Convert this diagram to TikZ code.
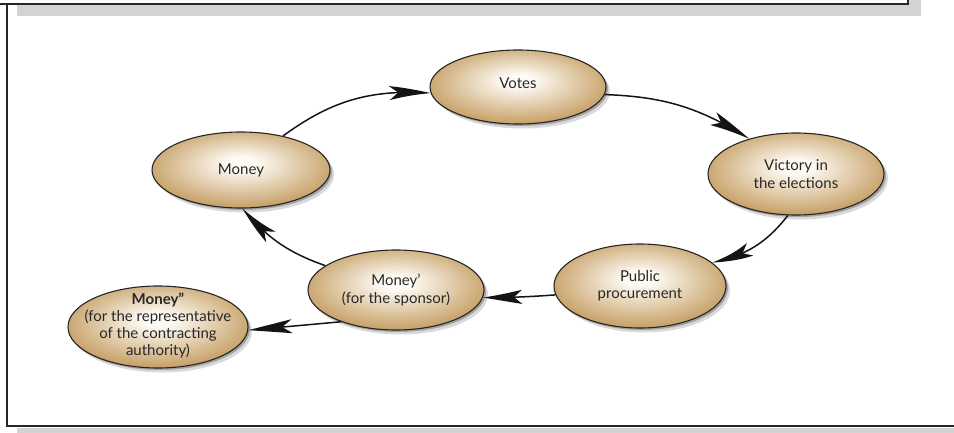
\documentclass[tikz,border=0pt]{standalone}
\usepackage{fontspec}
\setmainfont{Lato}
\usetikzlibrary{shapes.geometric,arrows.meta,bending,shadows}
\definecolor{tanedge}{RGB}{198,160,102}
\definecolor{tancent}{RGB}{254,251,245}
\definecolor{txt}{RGB}{40,40,40}
\definecolor{shadowgray}{RGB}{211,211,211}
\pgfdeclareradialshading{ellshade}{\pgfpoint{0bp}{5bp}}{color(0bp)=(tancent); color(4bp)=(tancent); color(27bp)=(tanedge); color(50bp)=(tanedge)}
\begin{document}
\begin{tikzpicture}[x=1pt,y=-1pt,
  oval/.style={ellipse, draw=black!85, line width=1.1pt, shading=ellshade, inner sep=0pt, align=center, text=txt,
    font=\fontsize{15}{17.5}\selectfont,
    general shadow={shadow xshift=2pt, shadow yshift=-2pt, fill=black, opacity=0.25},
    general shadow={shadow xshift=4pt, shadow yshift=-4.5pt, fill=black, opacity=0.15}},
  lbl/.style={inner sep=0pt, align=center, text=txt, font=\fontsize{15}{17}\selectfont},
  flow/.style={line width=1.5pt, draw=black!92, -{Stealth[length=44pt,width=14pt,inset=10pt,bend]}}]
\useasboundingbox (0,0) rectangle (954,433);
% frame
\fill[shadowgray] (17,5) rectangle (921,16.5);
\fill[shadowgray] (909,0) rectangle (921,16.5);
\fill[shadowgray] (17,428) rectangle (954,433);
\draw[line width=2pt, black!85] (0,4) -- (908,4) -- (908,0);
\draw[line width=2.2pt, black!85] (7,4) -- (7,426) -- (954,426);
% nodes
\node[oval, minimum width=176pt, minimum height=74pt] (votes) at (518,87) {};
\node[lbl] (votestext) at (518,83) {Votes};
\node[oval, minimum width=176pt, minimum height=82pt] (victory) at (796,174) {Victory in\\the elections};
\node[oval, minimum width=178pt, minimum height=76pt] (money) at (241,170) {Money};
\node[oval, minimum width=176pt, minimum height=80pt] (moneyp) at (396,290) {Money’\\(for the sponsor)};
\node[oval, minimum width=172pt, minimum height=84pt] (public) at (640,286) {Public\\procurement};
\node[oval, minimum width=180pt, minimum height=82pt] (moneypp) at (158,327) {};
\node[lbl] (moneypptext) at (158,325) {\textbf{Money”}\\(for the representative\\of the contracting\\authority)};
% connectors
\draw[flow] (money.39) to[bend left=20] (votes.184);
\draw[flow] (votes.-5) to[bend left=15] (victory.143);
\draw[flow] (victory.259) to[bend left=20] (public.18);
\draw[flow] (public.186) to[bend left=2] (moneyp.355);
\draw[flow] (moneyp.161) to[bend left=15] (money.272);
\draw[flow] (moneyp.210) -- (moneypp.358);
\end{tikzpicture}
\end{document}
